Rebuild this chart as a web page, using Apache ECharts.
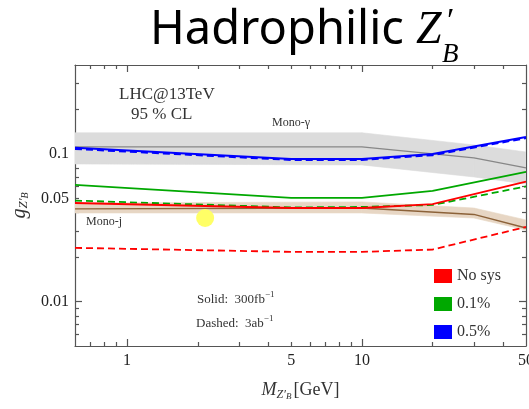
<!DOCTYPE html>
<html>
<head>
<meta charset="utf-8">
<script src="https://cdn.jsdelivr.net/npm/echarts@6/dist/echarts.min.js"></script>
<style>
  html, body { margin: 0; padding: 0; background: #fff; }
  #chart { width: 529px; height: 409px; }
</style>
</head>
<body>
<div id="chart"></div>
<script>
// masses in GeV, couplings g_Z'B
var masses = [0.6, 5, 10, 20, 50];
var noSysSolid = [0.0465, 0.043, 0.043, 0.0457, 0.0649];
var noSysDashed = [0.0231, 0.0217, 0.0217, 0.0225, 0.0320];
var sys01Solid = [0.0616, 0.0503, 0.0503, 0.0561, 0.0755];
var sys01Dashed = [0.0483, 0.0434, 0.0437, 0.0451, 0.0602];
var sys05Solid = [0.110, 0.0925, 0.0925, 0.100, 0.130];
var sys05Dashed = [0.108, 0.091, 0.091, 0.098, 0.128];

var monoMasses = [0.6, 10, 30, 50];
var monoGamma = [0.1115, 0.1115, 0.094, 0.0804];
var monoGammaLow = [0.0855, 0.0842, 0.0698, 0.0626];
var monoGammaHigh = [0.139, 0.139, 0.115, 0.103];
var monoJet = [0.0424, 0.043, 0.0389, 0.0315];
var monoJetLow = [0.0398, 0.0398, 0.0368, 0.0305];
var monoJetHigh = [0.0465, 0.0473, 0.043, 0.0357];

var yellowDot = [2.15, 0.0368];

var xRange = [0.6, 50];
var yRange = [0.005, 0.4];
var xLabelTicks = [1, 5, 10, 50];
var xMajorTicks = [1, 10];
var xMinorTicks = [0.7, 0.8, 0.9, 2, 3, 4, 5, 6, 7, 8, 9, 20, 30, 40];
var yLabelTicks = [0.01, 0.05, 0.1];
var yMajorTicks = [0.01, 0.1];
var yMinorTicks = [0.006, 0.007, 0.008, 0.009, 0.02, 0.03, 0.04, 0.05, 0.06, 0.07, 0.08, 0.09, 0.2, 0.3];

var lg = Math.log10;
var frameColor = '#555';
var serif = '"Liberation Serif", "DejaVu Serif", serif';

function pts(xs, ys) {
  return xs.map(function (x, i) { return [lg(x), lg(ys[i])]; });
}
// band pieces: [x1, lo1, hi1, x2, lo2, hi2] in log units
function bandPieces(xs, lo, hi) {
  var out = [];
  for (var i = 0; i < xs.length - 1; i++) {
    out.push([lg(xs[i]), lg(lo[i]), lg(hi[i]), lg(xs[i + 1]), lg(lo[i + 1]), lg(hi[i + 1])]);
  }
  return out;
}
function fmt(v) {
  return String(parseFloat(Math.pow(10, v).toPrecision(2)));
}

// one axis = one set of ticks (log values placed on a linear scale)
function tickAxis(dim, pos, ticks, len, extra) {
  var r = dim === 'x' ? xRange : yRange;
  var a = {
    type: 'value',
    position: pos,
    min: lg(r[0]),
    max: lg(r[1]),
    axisLine: { show: false, onZero: false },
    splitLine: { show: false },
    axisTick: {
      show: true, inside: true, length: len,
      customValues: ticks.map(lg),
      lineStyle: { color: frameColor, width: 1.2 }
    },
    axisLabel: { show: false }
  };
  return Object.assign(a, extra || {});
}
function frameLine() {
  return { show: true, onZero: false, lineStyle: { color: frameColor, width: 1.2 } };
}

var chart = echarts.init(document.getElementById('chart'));

var lineSeries = function (name, data, color, dashed, width) {
  return {
    name: name,
    type: 'line',
    data: data,
    symbol: 'none',
    clip: true,
    z: 5,
    itemStyle: { color: color },
    lineStyle: { color: color, width: width || 1.8, type: dashed ? [7, 4] : 'solid' }
  };
};

var bandSeries = function (xs, lo, hi, color) {
  return {
    type: 'custom',
    data: bandPieces(xs, lo, hi),
    clip: true,
    silent: true,
    z: 1,
    renderItem: function (params, api) {
      var a = api.coord([api.value(0), api.value(2)]);
      var b = api.coord([api.value(3), api.value(5)]);
      var c = api.coord([api.value(3), api.value(4)]);
      var d = api.coord([api.value(0), api.value(1)]);
      return {
        type: 'polygon',
        shape: { points: [a, b, c, d] },
        style: { fill: color, stroke: color, lineWidth: 0.6 }
      };
    }
  };
};

var option = {
  animation: false,
  grid: { left: 75, right: 3, top: 65, bottom: 63, outerBoundsMode: 'none' },
  xAxis: [
    tickAxis('x', 'bottom', xMajorTicks, 7, {
      axisLine: frameLine(),
      axisLabel: {
        show: true,
        customValues: xLabelTicks.map(lg),
        formatter: fmt,
        margin: 7,
        color: '#222',
        fontFamily: serif,
        fontSize: 16
      },
      name: '{m|M}{z|Z′}{b|B}{u|[GeV]}',
      nameLocation: 'middle',
      nameGap: 30,
      nameTextStyle: {
        rich: {
          m: { fontFamily: serif, fontStyle: 'italic', fontSize: 18, color: '#333', verticalAlign: 'top', lineHeight: 20 },
          z: { fontFamily: serif, fontStyle: 'italic', fontSize: 12, color: '#333', verticalAlign: 'bottom', lineHeight: 12, padding: [12, 0, 0, 0] },
          b: { fontFamily: serif, fontStyle: 'italic', fontSize: 9, color: '#333', verticalAlign: 'bottom', lineHeight: 9, padding: [18, 2, 0, 0] },
          u: { fontFamily: serif, fontSize: 18, color: '#333', verticalAlign: 'top', lineHeight: 20 }
        }
      }
    }),
    tickAxis('x', 'bottom', xMinorTicks, 4),
    tickAxis('x', 'top', xMajorTicks, 7, { axisLine: frameLine() }),
    tickAxis('x', 'top', xMinorTicks, 4)
  ],
  yAxis: [
    tickAxis('y', 'left', yMajorTicks, 7, {
      axisLine: frameLine(),
      axisLabel: {
        show: true,
        customValues: yLabelTicks.map(lg),
        formatter: fmt,
        margin: 6,
        color: '#222',
        fontFamily: serif,
        fontSize: 16
      },
      name: '{g|g}{z|Z′}{b|B}',
      nameLocation: 'middle',
      nameRotate: 90,
      nameGap: 31,
      nameTextStyle: {
        rich: {
          g: { fontFamily: serif, fontStyle: 'italic', fontSize: 20, color: '#333', verticalAlign: 'top', lineHeight: 20 },
          z: { fontFamily: serif, fontStyle: 'italic', fontSize: 13, color: '#333', verticalAlign: 'bottom', lineHeight: 13, padding: [12, 0, 0, 0] },
          b: { fontFamily: serif, fontStyle: 'italic', fontSize: 10, color: '#333', verticalAlign: 'bottom', lineHeight: 10, padding: [18, 0, 0, 0] }
        }
      }
    }),
    tickAxis('y', 'left', yMinorTicks, 4),
    tickAxis('y', 'right', yMajorTicks, 7, { axisLine: frameLine() }),
    tickAxis('y', 'right', yMinorTicks, 4)
  ],
  legend: {
    left: 429,
    top: 263,
    orient: 'vertical',
    itemWidth: 18,
    itemHeight: 14,
    itemGap: 12,
    selectedMode: false,
    textStyle: { fontFamily: serif, fontSize: 16, color: '#333', lineHeight: 14 },
    data: [
      { name: 'No sys', icon: 'rect' },
      { name: '0.1%', icon: 'rect' },
      { name: '0.5%', icon: 'rect' }
    ]
  },
  series: [
    bandSeries(monoMasses, monoGammaLow, monoGammaHigh, '#dcdcdc'),
    { type: 'line', data: pts(monoMasses, monoGamma), symbol: 'none', z: 2,
      lineStyle: { color: '#878787', width: 1.4 } },
    bandSeries(monoMasses, monoJetLow, monoJetHigh, '#e7d6c4'),
    { type: 'line', data: pts(monoMasses, monoJet), symbol: 'none', z: 2,
      lineStyle: { color: '#8c6239', width: 1.4 } },
    lineSeries('0.5%', pts(masses, sys05Solid), '#0000ff', false, 2),
    lineSeries('0.5%', pts(masses, sys05Dashed), '#0000ff', true, 2),
    lineSeries('0.1%', pts(masses, sys01Solid), '#00a800', false, 1.8),
    lineSeries('0.1%', pts(masses, sys01Dashed), '#00a800', true, 1.8),
    lineSeries('No sys', pts(masses, noSysSolid), '#ff0000', false, 1.8),
    lineSeries('No sys', pts(masses, noSysDashed), '#ff0000', true, 1.8),
    { type: 'scatter', data: [[lg(yellowDot[0]), lg(yellowDot[1])]], symbolSize: 18, z: 10,
      itemStyle: { color: '#ffff66', opacity: 1 } }
  ],
  graphic: [
    { type: 'text', x: 150, y: 31, style: { text: 'Hadrophilic', fontFamily: '"Noto Sans", "Open Sans", sans-serif',
      fontSize: 47, fill: '#000', verticalAlign: 'middle' } },
    { type: 'text', x: 416, y: 31, style: { text: 'Z', fontFamily: serif, fontStyle: 'italic',
      fontSize: 46, fill: '#000', verticalAlign: 'middle' } },
    { type: 'text', x: 447, y: 22, style: { text: '′', fontFamily: serif,
      fontSize: 34, fill: '#000', verticalAlign: 'middle' } },
    { type: 'text', x: 442, y: 55, style: { text: 'B', fontFamily: serif, fontStyle: 'italic',
      fontSize: 27, fill: '#000', verticalAlign: 'middle' } },
    { type: 'text', x: 119, y: 95, style: { text: 'LHC@13TeV', fontFamily: serif, fontSize: 17,
      fill: '#333', verticalAlign: 'middle' } },
    { type: 'text', x: 131, y: 115, style: { text: '95 % CL', fontFamily: serif, fontSize: 17,
      fill: '#333', verticalAlign: 'middle' } },
    { type: 'text', x: 272, y: 123, style: { text: 'Mono-γ', fontFamily: serif, fontSize: 12,
      fill: '#333', verticalAlign: 'middle' } },
    { type: 'text', x: 86, y: 222, style: { text: 'Mono-j', fontFamily: serif, fontSize: 12,
      fill: '#333', verticalAlign: 'middle' } },
    { type: 'text', x: 197, y: 298, style: { text: '{a|Solid:  300fb}{s|−1}', verticalAlign: 'middle',
      rich: {
        a: { fontFamily: serif, fontSize: 13, fill: '#333', verticalAlign: 'bottom', lineHeight: 16 },
        s: { fontFamily: serif, fontSize: 9, fill: '#333', verticalAlign: 'top', lineHeight: 9 }
      } } },
    { type: 'text', x: 196, y: 322, style: { text: '{a|Dashed:  3ab}{s|−1}', verticalAlign: 'middle',
      rich: {
        a: { fontFamily: serif, fontSize: 13, fill: '#333', verticalAlign: 'bottom', lineHeight: 16 },
        s: { fontFamily: serif, fontSize: 9, fill: '#333', verticalAlign: 'top', lineHeight: 9 }
      } } }
  ]
};

chart.setOption(option);
</script>
</body>
</html>
